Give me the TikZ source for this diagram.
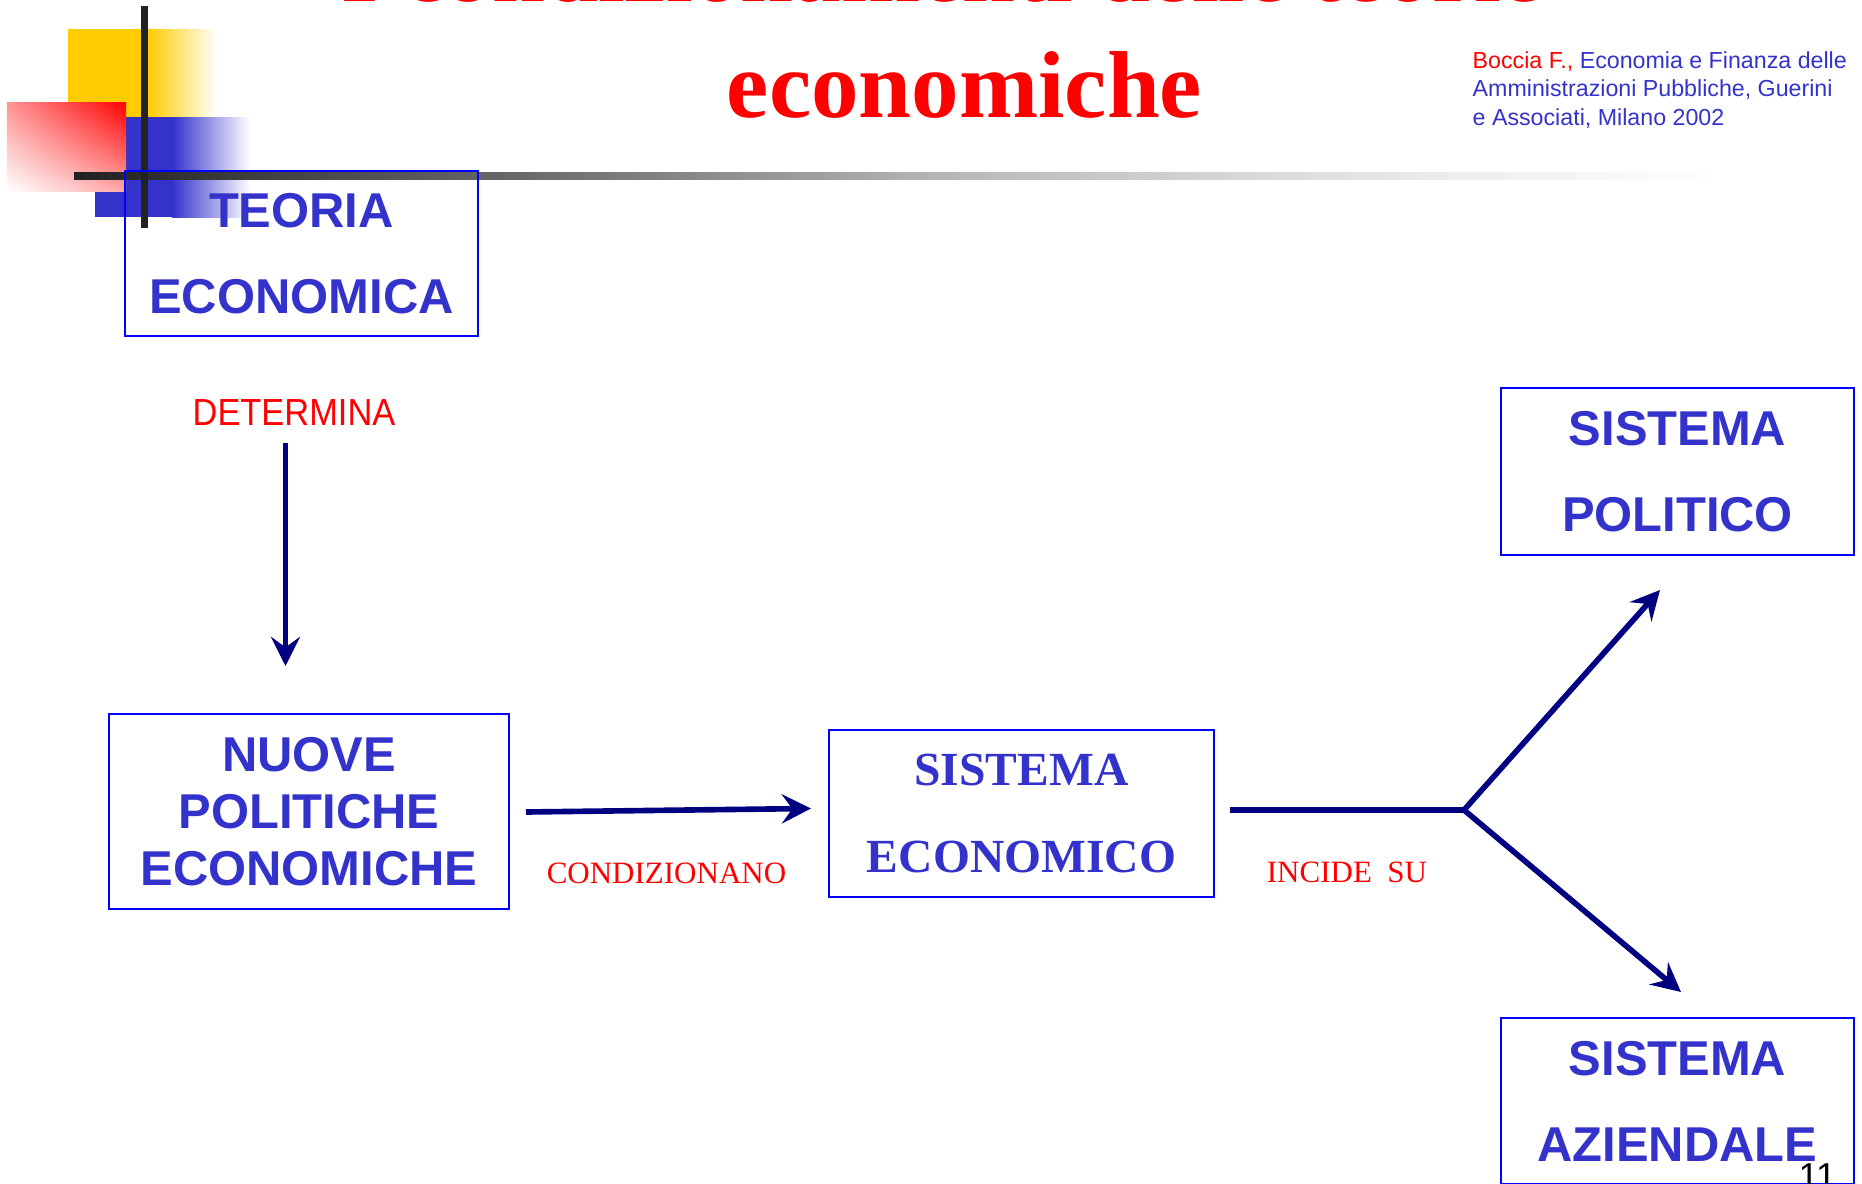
\documentclass[tikz,border=0pt]{standalone}
\usepackage{fontspec}
\setmainfont{Liberation Serif}
\setsansfont{Liberation Sans}
\usepackage{graphicx}
\usetikzlibrary{arrows.meta,shadings}
\definecolor{txtblue}{HTML}{3333CC}
\definecolor{boxblue}{HTML}{0000FF}
\definecolor{arrnavy}{HTML}{000080}
\definecolor{decoyellow}{HTML}{FFCC00}
\definecolor{decoblue}{HTML}{3333CC}
\definecolor{decoblack}{HTML}{222222}
\tikzset{
  sbox/.style={draw=boxblue, line width=0.57pt, inner sep=0pt, text=txtblue, align=center,
    font=\sffamily\bfseries\fontsize{13.91pt}{24.47pt}\selectfont},
  flowline/.style={draw=arrnavy, line width=1.6pt},
  flow/.style={flowline, -{Stealth[length=8.3pt,width=8.3pt,inset=3pt]}},
  redlab/.style={text=red, inner sep=0pt, anchor=base, font=\rmfamily\fontsize{8.82pt}{10pt}\selectfont},
  reftext/.style={anchor=base west, inner sep=0pt, text=txtblue, font=\sffamily\fontsize{6.6pt}{8pt}\selectfont},
}
\begin{document}
\begin{tikzpicture}[x=0.01cm, y=-0.01cm]
\useasboundingbox (0,0) rectangle (1862,1184);
% decoration
\fill[decoyellow] (68,29) rectangle (148,117);
\shade[left color=decoyellow, right color=white] (148,29) rectangle (217,117);
\fill[decoblue] (95,117) rectangle (172,217);
\shade[left color=decoblue, right color=white] (172,117) rectangle (250,217);
\shade[upper right=red, lower left=white, upper left=red!42, lower right=red!35] (7,102) rectangle (126,191);
\shade[left color=black!87, right color=black!60] (74,172) rectangle (500,179);
\shade[left color=black!60, right color=black!28] (500,172) rectangle (950,179);
\shade[left color=black!28, right color=black!7] (950,172) rectangle (1450,179);
\shade[left color=black!7, right color=white] (1450,172) rectangle (1720,179);
\fill[decoblack] (141,6) rectangle (148,228);
% title
\begin{scope}
\clip (0,0) rectangle (1862,1184);
\node[text=red, inner sep=0pt, anchor=base, font=\rmfamily\bfseries\fontsize{27.03pt}{32pt}\selectfont] (title1) at (942.5,1.3) {I condizionamenti delle teorie};
\end{scope}
\node[text=red, inner sep=0pt, anchor=base, font=\rmfamily\bfseries\fontsize{27.03pt}{32pt}\selectfont] (title2) at (964.5,117) {economiche};
% reference
\node[reftext] (ref1) at (1472,68) {\textcolor{red}{Boccia F.,} Economia e Finanza delle};
\node[reftext] (ref2) at (1472,96.5) {Amministrazioni Pubbliche, Guerini};
\node[reftext] (ref3) at (1472,125) {e Associati, Milano 2002};
% boxes
\node[sbox, minimum width=3.53cm, minimum height=1.65cm] (teoria) at (301.5,253.5) {TEORIA\\ECONOMICA};
\node[sbox, minimum width=4.0cm, minimum height=1.946cm, font=\sffamily\bfseries\fontsize{13.91pt}{16.22pt}\selectfont] (nuove) at (309,811.3) {NUOVE\\POLITICHE\\ECONOMICHE};
\node[sbox, minimum width=3.85cm, minimum height=1.667cm, font=\rmfamily\bfseries\fontsize{13.52pt}{24.75pt}\selectfont] (eco) at (1021.5,813.4) {SISTEMA\\ECONOMICO};
\node[sbox, minimum width=3.53cm, minimum height=1.665cm] (pol) at (1677.5,471.3) {SISTEMA\\POLITICO};
\node[sbox, minimum width=3.53cm, minimum height=1.66cm] (azi) at (1677.5,1101) {SISTEMA\\AZIENDALE};
% labels
\node[redlab, font=\sffamily\fontsize{10.73pt}{12pt}\selectfont] (det) at (294,425.5) {\scalebox{0.912}[1]{DETERMINA}};
\node[redlab] (cond) at (666.5,883) {CONDIZIONANO};
\node[redlab] (inc) at (1347,882.5) {INCIDE\ \ SU};
\node[anchor=base west, inner sep=0pt, font=\sffamily\fontsize{10.24pt}{12pt}\selectfont] (pnum) at (1798,1188.5) {11};
% connectors
\coordinate (d1) at (285.5,443);
\coordinate (d2) at (285.5,666);
\draw[flow] (d1) -- (d2);
\coordinate (c1) at (526,812);
\coordinate (c2) at (811,808.5);
\draw[flow] (c1) -- (c2);
\coordinate (i1) at (1230,810);
\coordinate (fork) at (1464,810);
\coordinate (up) at (1660,590);
\coordinate (dn) at (1681,992);
\draw[flowline] (i1) -- (fork);
\draw[flow] (fork) -- (up);
\draw[flow] (fork) -- (dn);
\end{tikzpicture}
\end{document}
